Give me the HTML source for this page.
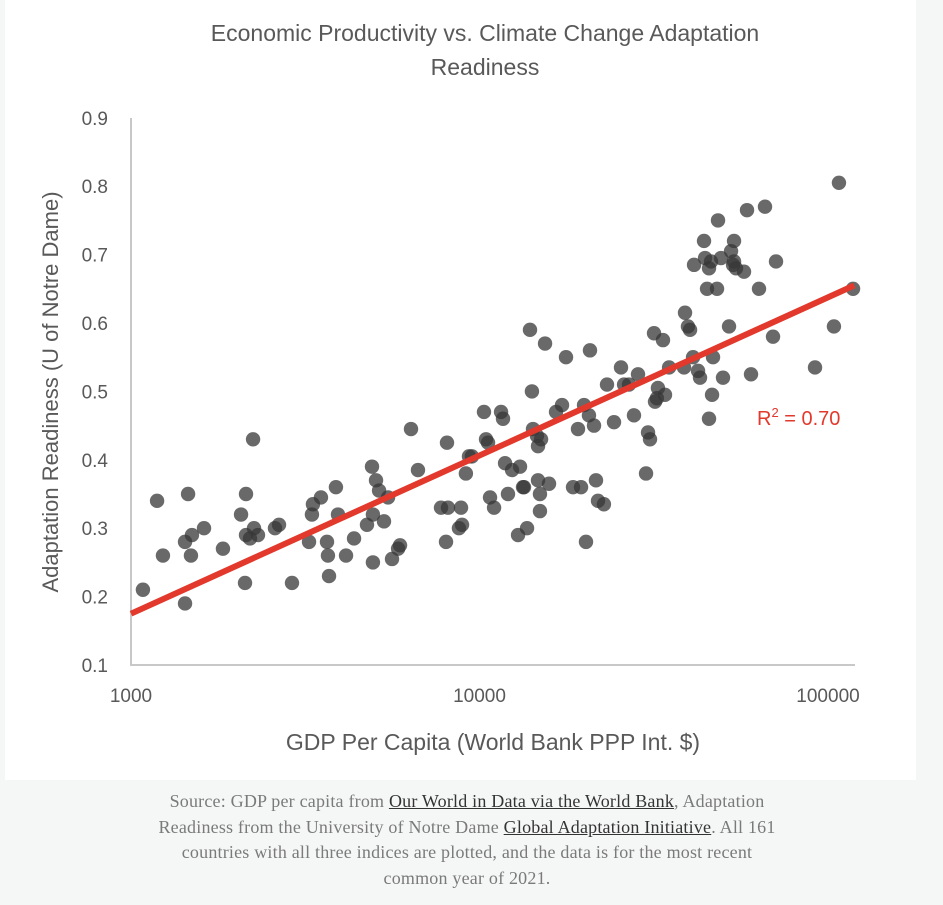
<!DOCTYPE html>
<html><head><meta charset="utf-8"><style>
html,body{margin:0;padding:0;background:#f5f7f6;width:943px;height:905px;overflow:hidden}
#panel{position:absolute;left:5px;top:0;width:911px;height:780px;background:#fff}
svg{position:absolute;left:0;top:0}
#caption{position:absolute;left:67px;top:789px;width:800px;text-align:center;font-family:"Liberation Serif",serif;font-size:18px;line-height:25.5px;color:#7a7a7a;letter-spacing:0.2px;white-space:nowrap}
#caption a{color:#333;text-decoration:underline}
</style></head><body>
<div id="panel"></div>
<svg id="chart" width="943" height="780"></svg>
<div id="caption">Source: GDP per capita from <a>Our World in Data via the World Bank</a>, Adaptation<br>Readiness from the University of Notre Dame <a>Global Adaptation Initiative</a>. All 161<br>countries with all three indices are plotted, and the data is for the most recent<br>common year of 2021.</div>
<script>
const gdp=[1082,1188,1235,1429,1429,1458,1486,1496,1620,1836,2069,2124,2138,2138,2195,2240,2254,2314,2589,2659,2897,3242,3305,3327,3508,3651,3674,3700,3873,3926,4140,4365,4755,4915,4945,4945,5047,5150,5320,5465,5610,5840,5915,6360,6660,7755,8067,8015,8121,8730,8850,8910,9140,9330,9510,10300,10440,10580,10720,11010,11530,11680,11840,12070,12400,12900,13070,13330,13420,13690,13960,14140,14240,14620,14720,14720,14910,14910,15020,15420,15830,16580,17250,17710,18550,19170,19560,19950,20210,20610,20750,21310,21590,21880,22750,23220,24320,25470,25990,26850,27750,28500,30050,30450,30850,31680,31890,32290,32510,33610,34060,34990,38630,38880,39640,40190,41000,41270,42370,42930,44080,44380,44970,45560,45560,46170,46780,46480,48040,48350,49320,49970,52000,52700,53400,53750,53750,54450,57410,58560,60130,63390,65950,69540,70930,91780,104000,107500,118000];
const readiness=[0.21,0.34,0.26,0.19,0.28,0.35,0.26,0.29,0.30,0.27,0.32,0.22,0.35,0.29,0.285,0.43,0.30,0.29,0.30,0.305,0.22,0.28,0.32,0.335,0.345,0.28,0.26,0.23,0.36,0.32,0.26,0.285,0.305,0.39,0.32,0.25,0.37,0.355,0.31,0.345,0.255,0.27,0.275,0.445,0.385,0.33,0.425,0.28,0.33,0.30,0.33,0.305,0.38,0.405,0.405,0.47,0.43,0.425,0.345,0.33,0.47,0.46,0.395,0.35,0.385,0.29,0.39,0.36,0.36,0.30,0.59,0.50,0.445,0.435,0.42,0.37,0.35,0.325,0.43,0.57,0.365,0.47,0.48,0.55,0.36,0.445,0.36,0.48,0.28,0.465,0.56,0.45,0.37,0.34,0.335,0.51,0.455,0.535,0.51,0.51,0.465,0.525,0.38,0.44,0.43,0.585,0.485,0.49,0.505,0.575,0.495,0.535,0.535,0.615,0.595,0.59,0.55,0.685,0.53,0.52,0.72,0.695,0.65,0.68,0.46,0.69,0.55,0.495,0.65,0.75,0.695,0.52,0.595,0.705,0.685,0.72,0.69,0.68,0.675,0.765,0.525,0.65,0.77,0.58,0.69,0.535,0.595,0.805,0.65];
const xTicks=[1000,10000,100000];
const yTicks=[0.1,0.2,0.3,0.4,0.5,0.6,0.7,0.8,0.9];
const trendStart=[1000,0.175];
const trendEnd=[119000,0.655];
const NS="http://www.w3.org/2000/svg";
const svg=document.getElementById('chart');
const X0=131,DEC=348.5,Y0=665,YS=684;
function xs(v){return X0+Math.log10(v/1000)*DEC;}
function ys(v){return Y0-(v-0.1)*YS;}
function mk(tag,attrs,txt){const e=document.createElementNS(NS,tag);for(const k in attrs)e.setAttribute(k,attrs[k]);if(txt!==undefined)e.textContent=txt;svg.appendChild(e);return e;}
const F='"Liberation Sans",sans-serif';
let t=mk('text',{x:485,y:41,'text-anchor':'middle','font-family':F,'font-size':23,fill:'#595959'},'Economic Productivity vs. Climate Change Adaptation');


t=mk('text',{x:485,y:75,'text-anchor':'middle','font-family':F,'font-size':23,fill:'#595959'},'Readiness');


let ax=mk('line',{x1:X0,y1:118,x2:X0,y2:Y0+1,stroke:'#c8c8c8','stroke-width':2});


ax=mk('line',{x1:X0,y1:Y0,x2:855,y2:Y0,stroke:'#c8c8c8','stroke-width':2});


yTicks.forEach(v=>{const e=mk('text',{x:108,y:ys(v)+7,'text-anchor':'end','font-family':F,'font-size':19,fill:'#595959'},v.toFixed(1));

});
xTicks.forEach(v=>{const e=mk('text',{x:xs(v),y:702,'text-anchor':'middle','font-family':F,'font-size':19,fill:'#595959'},String(v));

});
t=mk('text',{x:493,y:750,'text-anchor':'middle','font-family':F,'font-size':23,fill:'#595959'},'GDP Per Capita (World Bank PPP Int. $)');


t=mk('text',{x:0,y:0,'text-anchor':'middle','font-family':F,'font-size':22,fill:'#595959',transform:'translate(58,392) rotate(-90)'},'Adaptation Readiness (U of Notre Dame)');


gdp.forEach((g,i)=>{const c=mk('circle',{cx:xs(g),cy:ys(readiness[i]),r:7.2,fill:'rgba(55,55,55,0.75)'});

});
const tl=mk('line',{x1:xs(trendStart[0]),y1:ys(trendStart[1]),x2:xs(trendEnd[0]),y2:ys(trendEnd[1]),stroke:'#e2392c','stroke-width':6});


const r=mk('text',{x:757,y:425,'font-family':F,'font-size':20,fill:'#e2392c'});


r.innerHTML='R<tspan dy="-8" font-size="13">2</tspan><tspan dy="8"> = 0.70</tspan>';
</script>
</body></html>
